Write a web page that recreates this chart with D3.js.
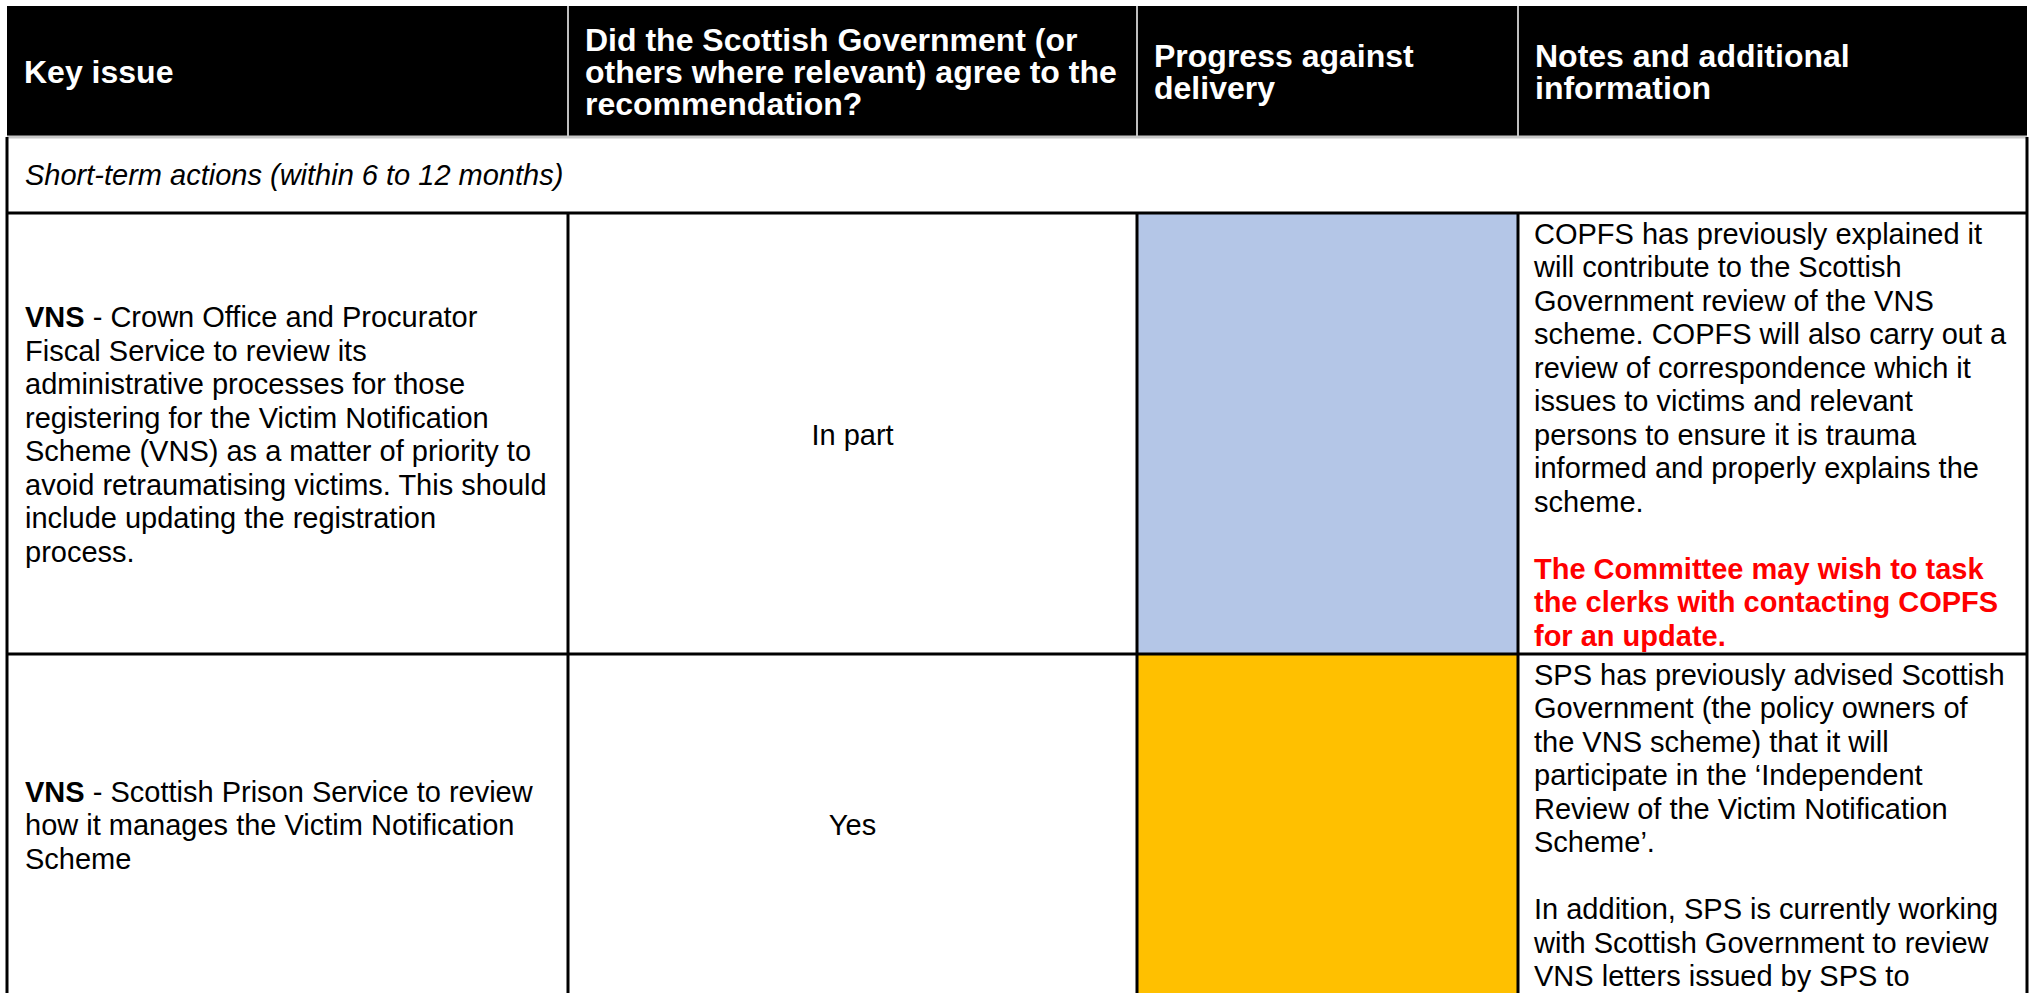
<!DOCTYPE html>
<html>
<head>
<meta charset="utf-8">
<script src="https://cdn.jsdelivr.net/npm/d3@7"></script>
<style>
  html, body { margin: 0; padding: 0; background: #fff; }
  svg { display: block; font-family: "Liberation Sans", Arial, sans-serif; }
</style>
</head>
<body>
<svg id="chart" width="2033" height="993"></svg>
<script>
// table content
const headers = [
  ["Key issue"],
  ["Did the Scottish Government (or", "others where relevant) agree to the", "recommendation?"],
  ["Progress against", "delivery"],
  ["Notes and additional", "information"]
];
const section = "Short-term actions (within 6 to 12 months)";

const topics = ["VNS", "VNS"];
const issueLines = [
  [" - Crown Office and Procurator",
   "Fiscal Service to review its",
   "administrative processes for those",
   "registering for the Victim Notification",
   "Scheme (VNS) as a matter of priority to",
   "avoid retraumatising victims. This should",
   "include updating the registration",
   "process."],
  [" - Scottish Prison Service to review",
   "how it manages the Victim Notification",
   "Scheme"]
];
const agreed = ["In part", "Yes"];
const progress = ["Blue", "Amber"];
const notes = [
  ["COPFS has previously explained it",
   "will contribute to the Scottish",
   "Government review of the VNS",
   "scheme. COPFS will also carry out a",
   "review of correspondence which it",
   "issues to victims and relevant",
   "persons to ensure it is trauma",
   "informed and properly explains the",
   "scheme.",
   "",
   "The Committee may wish to task",
   "the clerks with contacting COPFS",
   "for an update."],
  ["SPS has previously advised Scottish",
   "Government (the policy owners of",
   "the VNS scheme) that it will",
   "participate in the \u2018Independent",
   "Review of the Victim Notification",
   "Scheme\u2019.",
   "",
   "In addition, SPS is currently working",
   "with Scottish Government to review",
   "VNS letters issued by SPS to"]
];
// first line of the red "action" paragraph in each notes cell (-1 = none)
const actionFrom = [10, -1];

// layout
const tableLeft = 7, tableTop = 6;
const colWidths = [561, 569, 381, 509];
const colX = [tableLeft, ...d3.cumsum(colWidths).map(d => d + tableLeft)];
const headH = 131, sectionH = 76;
const fs = 29, lh = 33.5, hfs = 32, hlh = 32;
const padX = 17, padTop = 3.5, padBottom = 2;

const ragColour = d3.scaleOrdinal()
  .domain(["Blue", "Amber", "Red", "Green"])
  .range(["#b4c6e7", "#ffc000", "#ff0000", "#00b050"]);

const rowLines = notes.map((n, i) => d3.max([n.length, issueLines[i].length, 1]));
const rowH = rowLines.map(n => padTop + n * lh + padBottom);
const bodyTop = tableTop + headH + sectionH;
const rowY = [bodyTop, ...d3.cumsum(rowH).map(d => d + bodyTop)];

const svg = d3.select("#chart");

// header
svg.append("rect")
  .attr("x", colX[0]).attr("y", tableTop)
  .attr("width", colX[4] - colX[0]).attr("height", headH)
  .attr("fill", "#000");

svg.selectAll("line.hdiv")
  .data(colX.slice(1, 4))
  .join("line")
  .attr("class", "hdiv")
  .attr("x1", d => d).attr("x2", d => d)
  .attr("y1", tableTop).attr("y2", tableTop + headH)
  .attr("stroke", "#bfbfbf").attr("stroke-width", 2);

const headMid = tableTop + headH / 2;
svg.selectAll("text.head")
  .data(headers)
  .join("text")
  .attr("class", "head")
  .attr("fill", "#fff")
  .attr("font-weight", "bold")
  .attr("font-size", hfs)
  .each(function (lines, i) {
    const y0 = headMid - (lines.length - 1) * hlh / 2;
    d3.select(this).selectAll("tspan")
      .data(lines)
      .join("tspan")
      .attr("x", colX[i] + padX)
      .attr("y", (d, j) => y0 + j * hlh + hfs * 0.36)
      .text(d => d);
  });

svg.append("line")
  .attr("x1", colX[0]).attr("x2", colX[4])
  .attr("y1", tableTop + headH).attr("y2", tableTop + headH)
  .attr("stroke", "#c8c8c8").attr("stroke-width", 3);

// section row
svg.append("text")
  .attr("x", colX[0] + padX + 1)
  .attr("y", tableTop + headH + sectionH / 2 + fs * 0.36)
  .attr("font-size", fs)
  .attr("font-style", "italic")
  .attr("fill", "#000")
  .text(section);

// progress fills
svg.selectAll("rect.rag")
  .data(progress)
  .join("rect")
  .attr("class", "rag")
  .attr("x", colX[2]).attr("y", (d, i) => rowY[i])
  .attr("width", colWidths[2]).attr("height", (d, i) => rowH[i])
  .attr("fill", d => ragColour(d));

const firstBase = y => y + padTop + lh / 2 + fs * 0.36;

// key issue cells (vertically centred)
svg.selectAll("text.issue")
  .data(issueLines)
  .join("text")
  .attr("class", "issue")
  .attr("font-size", fs)
  .attr("fill", "#000")
  .each(function (lines, i) {
    const off = (rowLines[i] - lines.length) / 2;
    const g = d3.select(this);
    lines.forEach((ln, j) => {
      const y = firstBase(rowY[i]) + (off + j) * lh;
      if (j === 0) {
        g.append("tspan").attr("x", colX[0] + padX + 1).attr("y", y)
          .attr("font-weight", "bold").text(topics[i]);
        g.append("tspan").text(ln);
      } else {
        g.append("tspan").attr("x", colX[0] + padX + 1).attr("y", y).text(ln);
      }
    });
  });

// agreed cells (centred)
svg.selectAll("text.agreed")
  .data(agreed)
  .join("text")
  .attr("class", "agreed")
  .attr("font-size", fs)
  .attr("fill", "#000")
  .attr("text-anchor", "middle")
  .attr("x", (colX[1] + colX[2]) / 2)
  .attr("y", (d, i) => firstBase(rowY[i]) + (rowLines[i] - 1) / 2 * lh)
  .text(d => d);

// notes cells
svg.selectAll("text.notes")
  .data(notes)
  .join("text")
  .attr("class", "notes")
  .attr("font-size", fs)
  .each(function (lines, i) {
    d3.select(this).selectAll("tspan")
      .data(lines)
      .join("tspan")
      .attr("x", colX[3] + padX - 1)
      .attr("y", (d, j) => firstBase(rowY[i]) + j * lh)
      .attr("fill", (d, j) => actionFrom[i] >= 0 && j >= actionFrom[i] ? "#ff0000" : "#000")
      .attr("font-weight", (d, j) => actionFrom[i] >= 0 && j >= actionFrom[i] ? "bold" : "normal")
      .text(d => d);
  });

// body borders
const bodyBottom = rowY[rowY.length - 1];
const grid = svg.append("g").attr("stroke", "#000").attr("stroke-width", 3);
grid.selectAll("line.hrow")
  .data(rowY)
  .join("line")
  .attr("x1", colX[0]).attr("x2", colX[4])
  .attr("y1", d => d).attr("y2", d => d);
grid.selectAll("line.outer")
  .data([colX[0], colX[4]])
  .join("line")
  .attr("x1", d => d).attr("x2", d => d)
  .attr("y1", tableTop + headH).attr("y2", bodyBottom);
grid.selectAll("line.inner")
  .data(colX.slice(1, 4))
  .join("line")
  .attr("x1", d => d).attr("x2", d => d)
  .attr("y1", bodyTop).attr("y2", bodyBottom);
</script>
</body>
</html>
